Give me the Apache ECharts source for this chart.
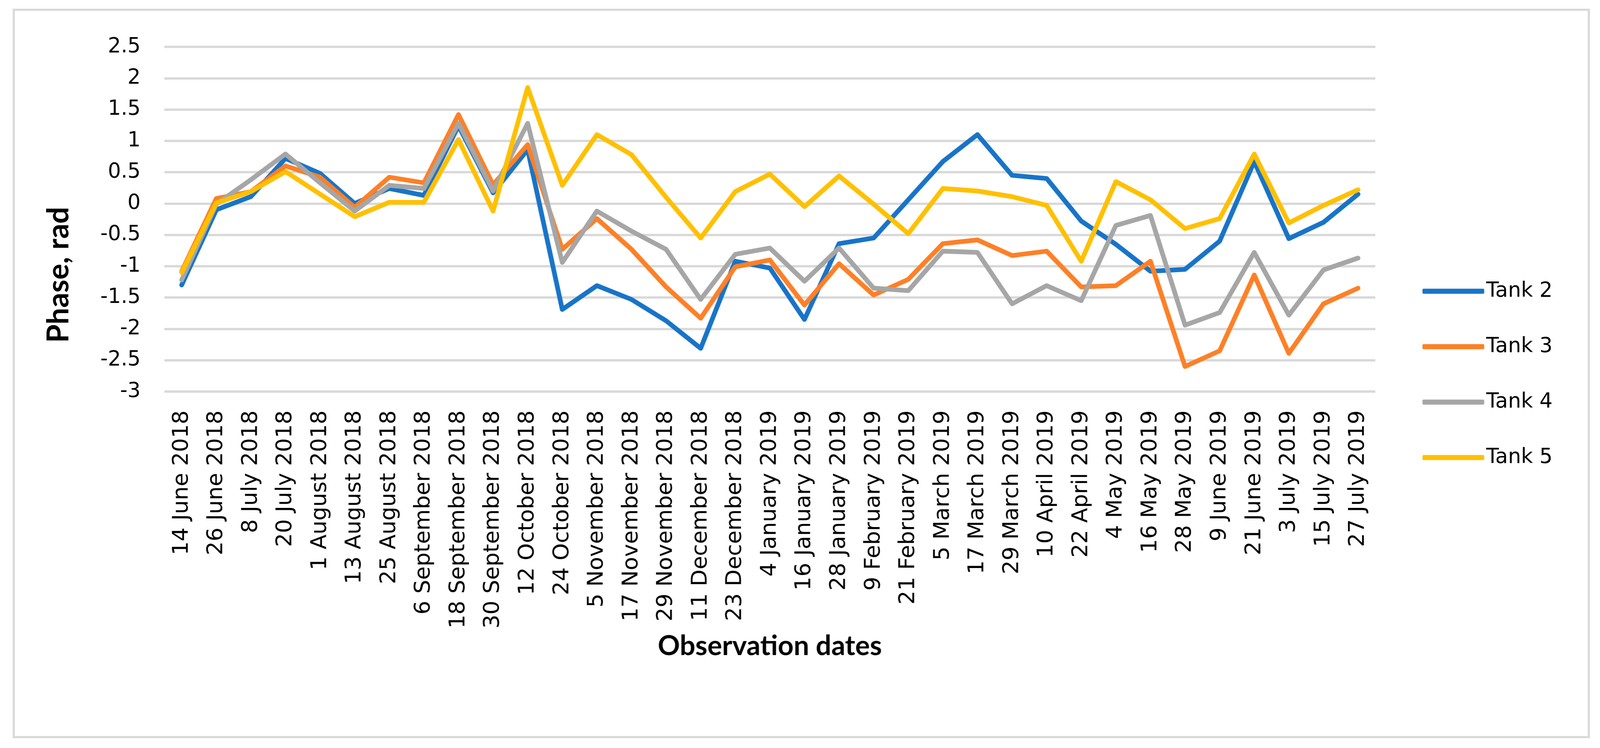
<!DOCTYPE html>
<html>
<head>
<meta charset="utf-8">
<script src="https://cdn.jsdelivr.net/npm/echarts@6/dist/echarts.min.js"></script>
<style>
html,body{margin:0;padding:0;background:#fff;overflow:hidden;}
#chart{position:absolute;left:0;top:0;}
</style>
</head>
<body>
<div id="chart"></div>
<script>
const categories = ["14 June 2018","26 June 2018","8 July 2018","20 July 2018","1 August 2018","13 August 2018","25 August 2018","6 September 2018","18 September 2018","30 September 2018","12 October 2018","24 October 2018","5 November 2018","17 November 2018","29 November 2018","11 December 2018","23 December 2018","4 January 2019","16 January 2019","28 January 2019","9 February 2019","21 February 2019","5 March 2019","17 March 2019","29 March 2019","10 April 2019","22 April 2019","4 May 2019","16 May 2019","28 May 2019","9 June 2019","21 June 2019","3 July 2019","15 July 2019","27 July 2019"];

const tank2 = [-1.30,-0.10,0.11,0.72,0.48,0.00,0.24,0.13,1.24,0.17,0.86,-1.69,-1.31,-1.53,-1.87,-2.31,-0.92,-1.03,-1.85,-0.64,-0.55,0.06,0.67,1.10,0.45,0.40,-0.28,-0.65,-1.08,-1.05,-0.60,0.67,-0.56,-0.30,0.15];
const tank3 = [-1.08,0.08,0.19,0.60,0.42,-0.06,0.42,0.33,1.42,0.30,0.94,-0.73,-0.24,-0.73,-1.33,-1.83,-1.01,-0.90,-1.62,-0.96,-1.46,-1.21,-0.64,-0.58,-0.83,-0.76,-1.33,-1.31,-0.92,-2.60,-2.35,-1.14,-2.39,-1.60,-1.35];
const tank4 = [-1.22,-0.01,0.38,0.79,0.33,-0.12,0.29,0.24,1.28,0.20,1.28,-0.94,-0.12,-0.44,-0.73,-1.53,-0.81,-0.71,-1.24,-0.71,-1.35,-1.39,-0.76,-0.78,-1.60,-1.31,-1.55,-0.35,-0.19,-1.94,-1.74,-0.78,-1.78,-1.06,-0.87];
const tank5 = [-1.10,0.01,0.19,0.51,0.15,-0.21,0.02,0.02,1.02,-0.12,1.85,0.29,1.10,0.78,0.10,-0.55,0.19,0.47,-0.05,0.44,-0.01,-0.48,0.24,0.20,0.11,-0.03,-0.92,0.35,0.06,-0.40,-0.24,0.79,-0.31,-0.03,0.22];

const seriesNames = ["Tank 2","Tank 3","Tank 4","Tank 5"];
const seriesColors = ["#1874c8","#fd8027","#a6a6a6","#ffc000"];
const seriesData = [tank2, tank3, tank4, tank5];

const yMin = -3, yMax = 2.5, yStep = 0.5;
const tickFont = "DejaVu Sans";

// design size 4430x1916, stretched to fill the viewport the page really gets
const W = 4430, H = 1916;
const kx = (window.innerWidth || W) / W;
const ky = (window.innerHeight || H) / H;
const X = v => v * kx;
const Y = v => v * ky;
const F = v => v * Math.min(kx, ky);
const el = document.getElementById('chart');
el.style.width = X(W) + 'px';
el.style.height = Y(H) + 'px';

const chart = echarts.init(el, null, {width:X(W), height:Y(H)});
chart.setOption({
  animation:false,
  backgroundColor:'#ffffff',
  grid:{left:X(455), right:X(623), top:Y(120), bottom:Y(913), containLabel:false},
  xAxis:{
    type:'category',
    data:categories,
    boundaryGap:true,
    axisLine:{show:false},
    axisTick:{show:false},
    splitLine:{show:false},
    axisLabel:{rotate:90, interval:0, fontSize:Y(56), fontFamily:tickFont, color:'#000', margin:Y(48)}
  },
  yAxis:{
    type:'value',
    min:yMin, max:yMax, interval:yStep,
    axisLine:{show:false},
    axisTick:{show:false},
    axisLabel:{fontSize:F(57), fontFamily:tickFont, color:'#000', margin:X(66)},
    splitLine:{show:true, lineStyle:{color:'#d9d9d9', width:Y(6)}}
  },
  legend:{
    orient:'vertical',
    align:'left',
    left:X(3932), top:Y(741) - Y(35),
    icon:'roundRect',
    itemWidth:X(171), itemHeight:Y(13),
    itemGap:Y(72),
    textStyle:{fontSize:F(57), fontFamily:tickFont, color:'#000', lineHeight:Y(70)},
    data:seriesNames
  },
  graphic:[
    {type:'rect', shape:{x:X(38), y:Y(25), width:X(4360), height:Y(1863)}, style:{fill:'none', stroke:'#d9d9d9', lineWidth:F(6)}, silent:true},
    {type:'text', x:X(163), y:Y(704), rotation:Math.PI/2, style:{text:'Phase, rad', font:'bold ' + Y(76) + 'px Lato', fill:'#000', textAlign:'center', textVerticalAlign:'middle'}},
    {type:'text', x:X(2131), y:Y(1655), style:{text:'Observation dates', font:'bold ' + F(76) + 'px Lato', fill:'#000', textAlign:'center', textVerticalAlign:'middle'}}
  ],
  series: seriesNames.map((n,i)=>({
    name:n, type:'line', data:seriesData[i], symbol:'none',
    itemStyle:{color:seriesColors[i]},
    lineStyle:{color:seriesColors[i], width:F(13), cap:'round', join:'round'}
  }))
});
</script>
</body>
</html>
